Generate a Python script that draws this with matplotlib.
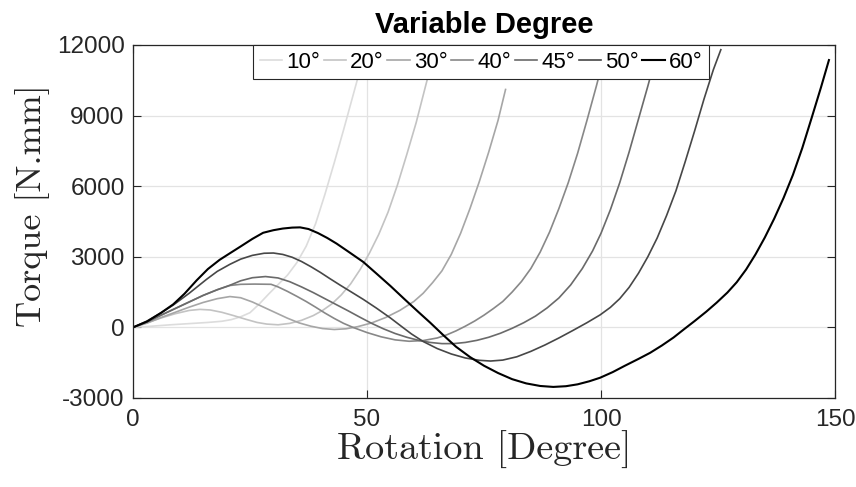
import matplotlib

matplotlib.use("Agg")
import matplotlib.pyplot as plt

# Torque vs rotation, one sweep per degree setting.
deg_10_x = [0, 4, 8, 12, 16, 19, 21, 23, 25, 27, 29, 31, 33, 35, 37, 39, 41, 43, 45, 47, 49]
deg_10_y = [0, 50, 110, 160, 210, 260, 330, 450, 625, 1000, 1420, 1820, 2220, 2750, 3450, 4400,
            5650, 7000, 8400, 9850, 11300]

deg_20_x = [0, 3, 6, 9, 12, 14.3, 16.5, 19, 21.5, 24, 26.5, 28.6, 31, 33.5, 36, 38.5, 40.5, 42.5,
            44.5, 46.5, 48.5, 50.5, 52.5, 54.5, 56.5, 58.5, 60.5, 62.5, 64]
deg_20_y = [0, 200, 400, 580, 720, 765, 740, 640, 500, 350, 210, 140, 110, 170, 300, 500, 720, 1000,
            1380, 1850, 2450, 3150, 3950, 4900, 6050, 7350, 8700, 10250, 11400]

deg_30_x = [0, 3, 6, 9, 12, 15, 18, 20.7, 23, 25.5, 28, 30.5, 33, 35.5, 38, 40.5, 43, 45.5, 48, 51,
            54, 57, 60, 62, 64, 66, 68, 70, 72, 74, 76, 78, 79.6]
deg_30_y = [0, 180, 420, 640, 860, 1060, 1220, 1310, 1260, 1080, 850, 620, 390, 190, 50, -50, -90,
            -60, 30, 190, 420, 720, 1100, 1450, 1900, 2400, 3100, 4000, 5050, 6200, 7450, 8800, 10110]

deg_40_x = [0, 3, 6, 9, 12, 15, 18, 20.7, 23, 26, 29.5, 31, 33, 35, 37, 39, 41, 43, 45, 47, 50, 53,
            56, 59, 62, 65, 67, 69, 71, 73, 75, 77, 79, 81, 83, 85, 87, 89, 91, 93, 95, 97, 99, 100.5]
deg_40_y = [0, 230, 520, 800, 1080, 1360, 1600, 1780, 1830, 1840, 1830, 1720, 1530, 1320, 1100, 860,
            610, 380, 170, 0, -220, -400, -530, -590, -560, -450, -320, -150, 50, 270, 520, 800, 1100,
            1500, 1950, 2500, 3200, 4050, 5050, 6150, 7400, 8800, 10250, 11400]

deg_45_x = [0, 3, 6, 9, 12, 15, 18, 20.7, 23, 25.5, 28.3, 31, 33.5, 36, 38.5, 41, 43.5, 46, 48.5, 51,
            53.5, 56, 58.5, 61, 63.5, 66, 68.5, 71, 73.5, 76, 78.5, 81, 83.5, 86, 88.5, 91, 93.5, 96,
            98.2, 100, 102, 104, 106, 108, 110, 111.5]
deg_45_y = [0, 230, 520, 800, 1080, 1360, 1600, 1790, 1980, 2110, 2160, 2100, 1940, 1720, 1480, 1220,
            960, 700, 430, 170, -60, -260, -420, -550, -640, -690, -690, -640, -550, -420, -250, -40,
            200, 480, 830, 1250, 1800, 2500, 3250, 4000, 5000, 6150, 7450, 8850, 10250, 11350]

deg_50_x = [0, 3, 6, 8.6, 12, 15.7, 18, 20.7, 23, 25.5, 28, 30, 32, 34, 36, 38, 40, 42, 44.3, 47,
            49.2, 52, 55, 57.5, 59.5, 62, 65, 68, 71, 74, 76.4, 79, 82, 85, 88, 91, 94, 97, 99.8,
            102, 104, 106, 108, 110, 112, 114, 116, 118, 120, 122, 124, 125.6]
deg_50_y = [0, 270, 620, 950, 1450, 2040, 2380, 2680, 2900, 3060, 3150, 3160, 3100, 2980, 2800, 2580,
            2340, 2080, 1790, 1460, 1190, 820, 400, 20, -280, -600, -900, -1130, -1300, -1400, -1430,
            -1390, -1250, -1020, -750, -450, -130, 200, 530, 850, 1220, 1700, 2300, 3000, 3800, 4750,
            5800, 7050, 8350, 9700, 10950, 11800]

deg_60_x = [0, 3, 6, 8.6, 11, 13.6, 16, 18.5, 20.7, 23, 25.5, 27.8, 30, 32, 34, 35.7, 37.5, 39.5,
            41.5, 43.5, 46, 49.2, 52, 55, 58, 61, 63.5, 66.3, 69, 72, 75, 78, 81, 84, 87, 89.8, 92.5,
            95, 97.5, 99.8, 102.5, 105, 108, 110.5, 113, 115.5, 117.6, 120, 122.5, 124.7, 127, 129,
            131, 133, 135, 137, 139, 141, 143, 145, 147, 148.7]
deg_60_y = [0, 250, 620, 980, 1430, 2000, 2480, 2870, 3150, 3440, 3760, 4020, 4130, 4200, 4240, 4250,
            4180, 4010, 3800, 3560, 3220, 2780, 2290, 1760, 1200, 650, 200, -330, -820, -1260, -1630,
            -1940, -2200, -2380, -2490, -2530, -2500, -2420, -2290, -2140, -1900, -1640, -1340, -1080,
            -770, -430, -100, 270, 670, 1050, 1480, 1920, 2460, 3100, 3820, 4620, 5500, 6480, 7620,
            8900, 10200, 11360]

labels = ["10°", "20°", "30°", "40°", "45°", "50°", "60°"]
series = [
    (deg_10_x, deg_10_y),
    (deg_20_x, deg_20_y),
    (deg_30_x, deg_30_y),
    (deg_40_x, deg_40_y),
    (deg_45_x, deg_45_y),
    (deg_50_x, deg_50_y),
    (deg_60_x, deg_60_y),
]
greys = ["#dcdcdc", "#c3c3c3", "#a6a6a6", "#888888", "#6a6a6a", "#474747", "#000000"]

plt.rcParams["font.family"] = ["Liberation Sans", "DejaVu Sans"]
plt.rcParams["axes.unicode_minus"] = False

fig = plt.figure(figsize=(8.56, 4.87), dpi=100)
ax = fig.add_axes([0.1554, 0.1828, 0.8201, 0.7248])

for (x, y), lab, c in zip(series, labels, greys):
    ax.plot(x, y, color=c, lw=1.5 if c == "#000000" else 1.2, label=lab,
            solid_joinstyle="round")

ax.set_xlim(0, 150)
ax.set_ylim(-3000, 12000)
ax.set_xticks([0, 50, 100, 150])
ax.set_yticks(range(-3000, 12001, 3000))
ax.tick_params(direction="in", top=True, right=True, length=6, width=0.8,
               labelsize=17.5, colors="#262626", labelcolor="#262626")
ax.tick_params(axis="x", pad=8)
ax.tick_params(axis="y", pad=6)
ax.grid(True, color="#e3e3e3", lw=0.9)
ax.set_axisbelow(True)
for s in ax.spines.values():
    s.set_color("#262626")
    s.set_linewidth(0.9)

ax.set_xlabel("Rotation [Degree]", fontfamily="cmr10", fontsize=27.5, color="#262626", labelpad=0)
ax.set_ylabel("Torque [N.mm]", fontfamily="cmr10", fontsize=26, color="#262626")
ax.yaxis.set_label_coords(-0.118, 0.544)
ax.set_title("Variable Degree", fontsize=21, fontweight="bold", pad=8.5)

leg = ax.legend(loc="upper center", bbox_to_anchor=(0.496, 1.0), ncol=7, frameon=True,
                fancybox=False, fontsize=16, handlelength=1.0, handletextpad=0.2,
                columnspacing=0.15, borderpad=0.3, borderaxespad=0.0, framealpha=1.0)
leg.get_frame().set_edgecolor("#262626")
leg.get_frame().set_linewidth(0.8)

fig.savefig("out.png", dpi=100)
